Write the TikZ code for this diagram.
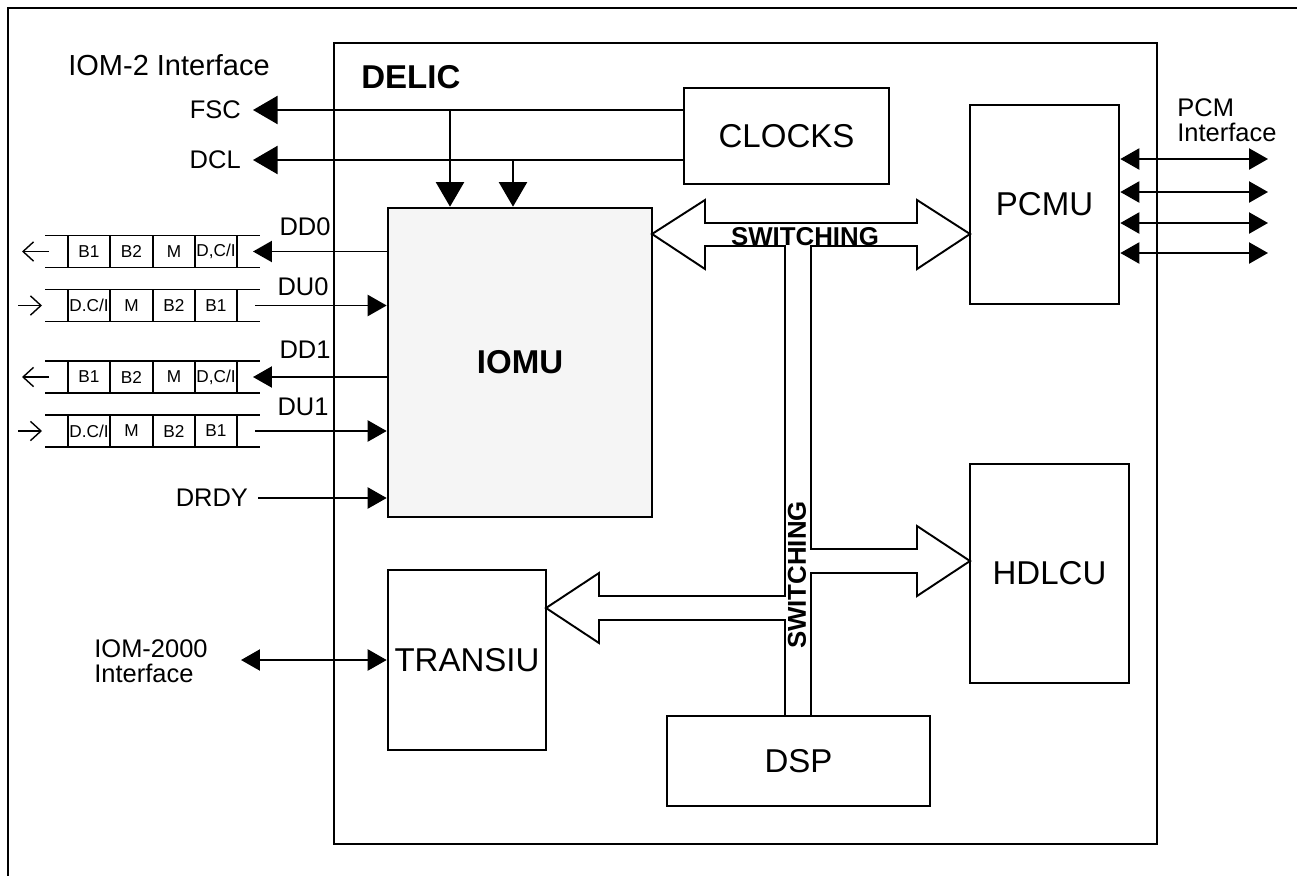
\documentclass[tikz,border=0pt]{standalone}
\usepackage{fontspec}
\setmainfont{Liberation Sans}
\usetikzlibrary{arrows.meta}
\newcommand\px{0.02cm}
\newcommand\blockfont{\fontsize{18.8}{20}\selectfont}
\newcommand\sigfont{\fontsize{14.5}{14.4}\selectfont}
\newcommand\cellfont{\fontsize{9.8}{10}\selectfont}
\newcommand\swfont{\fontsize{14.7}{16}\selectfont\bfseries}
\definecolor{iomugray}{HTML}{F5F5F5}
\tikzset{
  block/.style={draw, line width=1.5pt, inner sep=0pt, font=\blockfont},
  siglabel/.style={font=\sigfont, inner sep=0pt},
  sig/.style={line width=1.1pt},
  big tip/.style={-{Triangle[length=14pt,width=16pt]}},
  small tip/.style={-{Triangle[length=10.8pt,width=12pt]}},
  small both/.style={{Triangle[length=10.8pt,width=12pt]}-{Triangle[length=10.8pt,width=12pt]}},
  row/.style={line width=1.1pt},
  cell/.style={font=\cellfont, inner sep=0pt},
  barb/.style={line width=0.8pt, -{Straight Barb[length=6pt,width=11pt]}},
  bus/.style={line width=1.1pt, line join=miter},
}
\begin{document}
\begin{tikzpicture}[x=0.02cm,y=-0.02cm]
  \useasboundingbox (0,0) rectangle (1297,876);
  \draw[line width=0.8pt] (1297,8) -- (8,8) -- (8,876);
  % chip and blocks
  \node[block, minimum width=823*\px, minimum height=801*\px] (delic) at (745.5,443.5) {};
  \node[font=\blockfont\bfseries, inner sep=0pt, anchor=west] (delicname) at (361,77) {DELIC};
  \node[block, minimum width=205*\px, minimum height=96*\px] (clocks) at (786.5,136) {CLOCKS};
  \node[block, fill=iomugray, font=\blockfont\bfseries, minimum width=264*\px, minimum height=309*\px] (iomu) at (520,362.5) {IOMU};
  \node[block, minimum width=149*\px, minimum height=199*\px] (pcmu) at (1044.5,204.5) {PCMU};
  \node[block, minimum width=159*\px, minimum height=219*\px] (hdlcu) at (1049.5,573.5) {HDLCU};
  \node[block, minimum width=158*\px, minimum height=180*\px] (transiu) at (467,660) {TRANSIU};
  \node[block, minimum width=263*\px, minimum height=90*\px] (dsp) at (798.5,761) {DSP};
  % switching bus
  \draw[bus] (652,234) -- (705,200) -- (705,223) -- (917,223) -- (917,200) -- (970,234)
    -- (917,269) -- (917,246) -- (811,246) -- (811,549) -- (917,549) -- (917,526)
    -- (970,561) -- (917,596) -- (917,573) -- (811,573) -- (811,716)
    -- (785,716) -- (785,620) -- (599,620) -- (599,643) -- (546,608) -- (599,573)
    -- (599,596) -- (785,596) -- (785,246) -- (705,246) -- (705,269) -- cycle;
  \node[font=\swfont, inner sep=0pt] (swh) at (805,237) {SWITCHING};
  \node[font=\swfont, inner sep=0pt, rotate=90] (swv) at (797,575) {SWITCHING};
  % IOM-2 side
  \node[font=\fontsize{16.5}{18}\selectfont, inner sep=0pt, anchor=west] (iom2) at (68,65) {IOM-2 Interface};
  \node[siglabel, anchor=east, outer xsep=7pt] (fsc) at (253,110) {FSC};
  \node[siglabel, anchor=east, outer xsep=7pt] (dcl) at (253,160) {DCL};
  \draw[sig, big tip] (clocks.west |- fsc.east) -- (fsc.east);
  \draw[sig, big tip] (clocks.west |- dcl.east) -- (dcl.east);
  \coordinate (fsctap) at (450,110);
  \coordinate (dcltap) at (513,160);
  \draw[sig, big tip] (fsctap) -- (fsctap |- iomu.north);
  \draw[sig, big tip] (dcltap) -- (dcltap |- iomu.north);
  % frames
  \foreach \yc/\n in {251.5/0,377/1}{
    \draw[row] (45,\yc-16) -- (260,\yc-16) (45,\yc+16) -- (260,\yc+16);
    \foreach \xd in {68,110,153,195,237} \draw[row] (\xd,\yc-16) -- (\xd,\yc+16);
    \node[cell] (dd\n-a) at (89,\yc) {B1};
    \node[cell] (dd\n-b) at (131.5,\yc) {B2};
    \node[cell] (dd\n-c) at (174,\yc) {M};
    \node[cell] (dd\n-d) at (216,\yc) {D,C/I};
    \draw[barb] (49,\yc) -- (22,\yc);
  }
  \foreach \yc/\n in {305.5/0,431/1}{
    \draw[row] (45,\yc-16) -- (260,\yc-16) (45,\yc+16) -- (260,\yc+16);
    \foreach \xd in {68,110,153,195,237} \draw[row] (\xd,\yc-16) -- (\xd,\yc+16);
    \node[cell] (du\n-a) at (89,\yc) {D.C/I};
    \node[cell] (du\n-b) at (131.5,\yc) {M};
    \node[cell] (du\n-c) at (174,\yc) {B2};
    \node[cell] (du\n-d) at (216,\yc) {B1};
    \draw[barb] (18,\yc) -- (42,\yc);
  }
  \node[siglabel] (dd0) at (305,227) {DD0};
  \node[siglabel] (du0) at (303,287) {DU0};
  \node[siglabel] (dd1) at (305,350) {DD1};
  \node[siglabel] (du1) at (303,407) {DU1};
  \coordinate (dd0end) at (253,251.5);
  \coordinate (dd1end) at (253,377);
  \coordinate (du0start) at (255,305.5);
  \coordinate (du1start) at (255,431);
  \draw[sig, small tip] (iomu.west |- dd0end) -- (dd0end);
  \draw[sig, small tip] (iomu.west |- dd1end) -- (dd1end);
  \draw[sig, small tip] (du0start) -- (du0start -| iomu.west);
  \draw[sig, small tip] (du1start) -- (du1start -| iomu.west);
  \node[siglabel, anchor=east, outer xsep=5.7pt] (drdy) at (258,498) {DRDY};
  \draw[sig, small tip] (drdy.east) -- (drdy.east -| iomu.west);
  % IOM-2000 side
  \node[siglabel, align=left, anchor=west] (iom2000) at (94,661) {IOM-2000\\Interface};
  \coordinate (iom2000end) at (241,660);
  \draw[sig, small both] (iom2000end) -- (iom2000end -| transiu.west);
  % PCM side
  \node[siglabel, align=left, anchor=west] (pcmif) at (1177,120) {PCM\\Interface};
  \foreach \yp [count=\i] in {159,192,223,253}{
    \coordinate (pcm\i) at (1268,\yp);
    \draw[sig, small both] (pcm\i -| pcmu.east) -- (pcm\i);
  }
\end{tikzpicture}
\end{document}
